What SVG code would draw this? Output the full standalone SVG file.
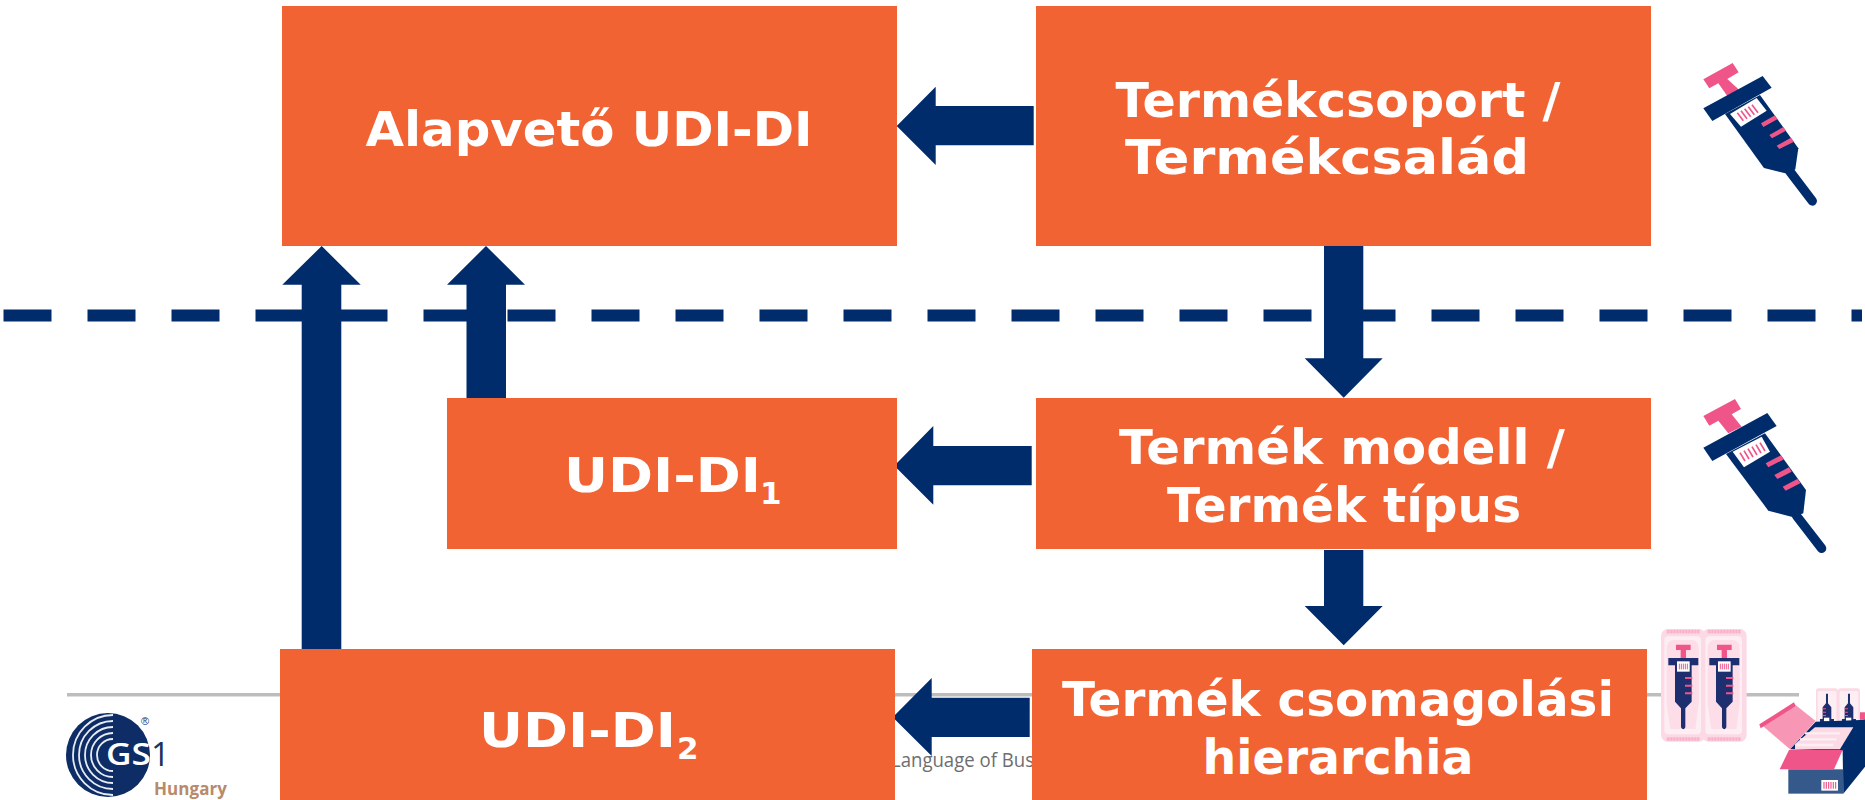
<svg xmlns="http://www.w3.org/2000/svg" width="1865" height="800" viewBox="0 0 1865 800">
<style>
.box{fill:#f26334}
.arrow{fill:#002c6c}
.t{font-family:"DejaVu Sans",Verdana,sans-serif;font-weight:700;font-size:48px;fill:#fff;text-anchor:middle}
.s{text-anchor:start}
.sub{font-size:31px;text-anchor:start}
.nv{fill:#002c6c}.pk{fill:#f0558a}.wh{fill:#fff}
.o{font-family:"Open Sans",sans-serif}
</style>
<defs>
<g id="pack">
<rect x="0" y="0" width="134" height="338" rx="20" fill="#fcdae5"/>
<rect x="10" y="22" width="110" height="294" rx="12" fill="#fdeef4"/>
<path d="M17 60Q17 33 40 33H90Q113 33 113 60V225L103 300H28L17 225Z" fill="#fcdde8"/>
<path d="M17 8H117M17 330H117" stroke="#f8a9c3" stroke-width="11" stroke-dasharray="3 1.500" fill="none"/>
<path class="pk" d="M45 47H89V63H75V87H59V63H45Z"/>
<path fill="#1d2f6f" d="M22 87H112V109H92V218L73 238V295Q67 307 60 295V238L42 218V109H22Z"/>
<rect x="48" y="97" width="38" height="31" class="wh"/>
<path d="M55 104V121M61 104V121M67 104V121M73 104V121M79 104V121" stroke="#f0558a" stroke-width="3"/>
<path class="pk" d="M72 144H94V150H72ZM72 167H94V173H72ZM72 190H94V196H72Z"/>
</g>
<g id="pack2">
<rect x="0" y="0" width="66" height="120" rx="8" fill="#fcdae5"/>
<rect x="5" y="8" width="56" height="105" rx="5" fill="#fdeef4"/>
<path fill="#1d2f6f" d="M30 16H36V45L46 57V92H54V102H12V92H20V57L30 45Z"/>
<rect x="24" y="88" width="16" height="11" class="wh"/>
<path class="pk" d="M24 102H42V110H24ZM20 60H30V63H20ZM20 70H30V73H20ZM20 80H30V83H20Z"/>
</g>
</defs>

<g id="footer">
<rect x="67" y="693" width="1732" height="3.500" fill="#bdbdbd"/>
<text class="o" x="891" y="767" font-size="20" fill="#6d6e70" textLength="143" lengthAdjust="spacingAndGlyphs">Language of Bus</text>
</g>

<g id="logo">
<circle cx="108" cy="755" r="42" fill="#0e2d66"/>
<g fill="none" stroke="#e6ecf3" stroke-width="1.800">
<path d="M113 715A40 40 0 0 0 113 795"/>
<path d="M113 721A34 34 0 0 0 113 789"/>
<path d="M113 727A28 28 0 0 0 113 783"/>
<path d="M113 733A22 22 0 0 0 113 777"/>
<path d="M113 739A16 16 0 0 0 113 771"/>
</g>
<text class="o" x="106" y="765" font-size="31" font-weight="600" fill="#fff" textLength="45" lengthAdjust="spacingAndGlyphs">GS</text>
<text class="o" x="151" y="766" font-size="33" fill="#1d3358">1</text>
<text x="145" y="725" font-family="'Liberation Sans',sans-serif" font-size="11" text-anchor="middle" fill="#1d3358">®</text>
<text class="o" x="154" y="795" font-size="17" font-weight="700" fill="#b98a69" textLength="73">Hungary</text>
</g>

<g id="connectors">
<g id="dashed-line">
<path d="M3.500 315.500H1862" stroke="#002c6c" stroke-width="12" stroke-dasharray="48 36" fill="none"/>
</g>
<polygon class="arrow" points="321.700,246 360.700,284.700 341.300,284.700 341.300,649 301.700,649 301.700,284.700 282.300,284.700"/>
<polygon class="arrow" points="486,246 525,284.700 506,284.700 506,398 466.500,398 466.500,284.700 447,284.700"/>
<polygon class="arrow" points="896.700,126 935.700,86.700 935.700,106 1033.700,106 1033.700,145.300 935.700,145.300 935.700,165"/>
<polygon class="arrow" points="894.300,465.700 933.300,426 933.300,446 1031.700,446 1031.700,485.300 933.300,485.300 933.300,504.700"/>
<polygon class="arrow" points="892.700,717.300 931.700,678 931.700,697.700 1029.700,697.700 1029.700,737 931.700,737 931.700,756"/>
<polygon class="arrow" points="1324,245 1363.300,245 1363.300,358.300 1382.700,358.300 1343.700,397.700 1304.700,358.300 1324,358.300"/>
<polygon class="arrow" points="1324,550 1363.300,550 1363.300,606 1382.700,606 1343.700,645.300 1304.700,606 1324,606"/>
</g>

<g id="node-alapveto"><rect class="box" x="282" y="6" width="615" height="240"/><text class="t" x="589" y="146" textLength="447" lengthAdjust="spacingAndGlyphs">Alapvető UDI-DI</text></g>
<g id="node-termekcsoport"><rect class="box" x="1036" y="6" width="615" height="240"/><text class="t" x="1338" y="117" textLength="445" lengthAdjust="spacingAndGlyphs">Termékcsoport /</text><text class="t" x="1327" y="174" textLength="404" lengthAdjust="spacingAndGlyphs">Termékcsalád</text></g>
<g id="node-udi1"><rect class="box" x="447" y="398" width="450" height="151"/><text class="t s" x="564" y="492" textLength="197" lengthAdjust="spacingAndGlyphs">UDI-DI</text><text class="t sub" x="760" y="504">1</text></g>
<g id="node-modell"><rect class="box" x="1036" y="398" width="615" height="151"/><text class="t" x="1342" y="464" textLength="446" lengthAdjust="spacingAndGlyphs">Termék modell /</text><text class="t" x="1344" y="522" textLength="354" lengthAdjust="spacingAndGlyphs">Termék típus</text></g>
<g id="node-udi2"><rect class="box" x="280" y="649" width="615" height="151"/><text class="t s" x="479" y="747" textLength="197" lengthAdjust="spacingAndGlyphs">UDI-DI</text><text class="t sub" x="677" y="759">2</text></g>
<g id="node-csomag"><rect class="box" x="1032" y="649" width="615" height="151"/><text class="t" x="1338" y="716" textLength="552" lengthAdjust="spacingAndGlyphs">Termék csomagolási</text><text class="t" x="1338" y="774" textLength="271" lengthAdjust="spacingAndGlyphs">hierarchia</text></g>

<g id="icon-syringe-1" transform="translate(1640 40) scale(.3333)">
<path class="pk" d="M190 118L278 69L296 97L262 117L298 150L262 168L235 130L208 145Z"/>
<path class="nv" d="M190 205L368 108L395 143L217 243Z"/>
<path class="nv" d="M255 222L360 165L475 325L466 388L445 402L372 384Z"/>
<path d="M450 395L517 483" stroke="#002c6c" stroke-width="28" stroke-linecap="round" fill="none"/>
<path class="wh" d="M270 222L350 174L380 212L303 260Z"/>
<path d="M292 218L310 242M303 212L321 236M314 206L332 230M325 200L343 224M336 194L354 218" stroke="#f0558a" stroke-width="5" fill="none"/>
<path class="pk" d="M363 250L405 226L412 238L370 261ZM388 285L430 261L438 272L396 295ZM410 317L453 293L462 305L418 327Z"/>
</g>
<g id="icon-syringe-2" transform="translate(1640 380) scale(.3333)">
<path class="pk" d="M190 108L285 57L303 87L275 103L305 140L265 160L235 122L208 137Z"/>
<path class="nv" d="M190 203L382 99L410 138L217 243Z"/>
<path class="nv" d="M258 222L375 160L498 330L490 400L460 412L385 392Z"/>
<path d="M470 408L545 505" stroke="#002c6c" stroke-width="28" stroke-linecap="round" fill="none"/>
<path class="wh" d="M278 215L365 170L390 215L312 262Z"/>
<path d="M300 218L315 243M312 212L327 237M324 206L339 231M336 200L351 225M348 194L363 219M360 188L375 213" stroke="#f0558a" stroke-width="5" fill="none"/>
<path class="pk" d="M377 250L423 226L432 238L385 262ZM403 285L447 262L455 275L412 297ZM428 320L472 297L482 309L437 332Z"/>
</g>
<g id="icon-packs" transform="translate(1640 620) scale(.3333)">
<use href="#pack" x="63" y="27"/><use href="#pack" x="186" y="27"/>
</g>
<g id="icon-box" transform="translate(1640 620) scale(.3333)">
<use href="#pack2" x="528" y="205"/><use href="#pack2" x="594" y="205"/>
<path class="nv" d="M450 388L527 305L660 300L675 298V330L608 392Z"/>
<path fill="#fcdae5" d="M465 372L525 322H640L600 388H465Z"/>
<path d="M495 340H600M480 358H590M470 375H580" stroke="#fdeef4" stroke-width="7" fill="none"/>
<path fill="#f797b5" d="M365 315L460 250L527 303L450 388Z"/>
<path class="pk" d="M358 313L462 247L467 258L362 325Z"/>
<path class="nv" d="M608 392L675 310V440L610 521Z"/>
<path class="pk" d="M660 277H675V298L660 300Z"/>
<rect x="445" y="448" width="165" height="73" fill="#35598a"/>
<path class="pk" d="M447 390H608L582 448H419Z"/>
<rect x="544" y="480" width="50" height="32" class="wh"/>
<path d="M552 486V506M559 486V506M566 486V506M573 486V506M580 486V506M587 486V506" stroke="#f0558a" stroke-width="3.500"/>
</g>
</svg>
